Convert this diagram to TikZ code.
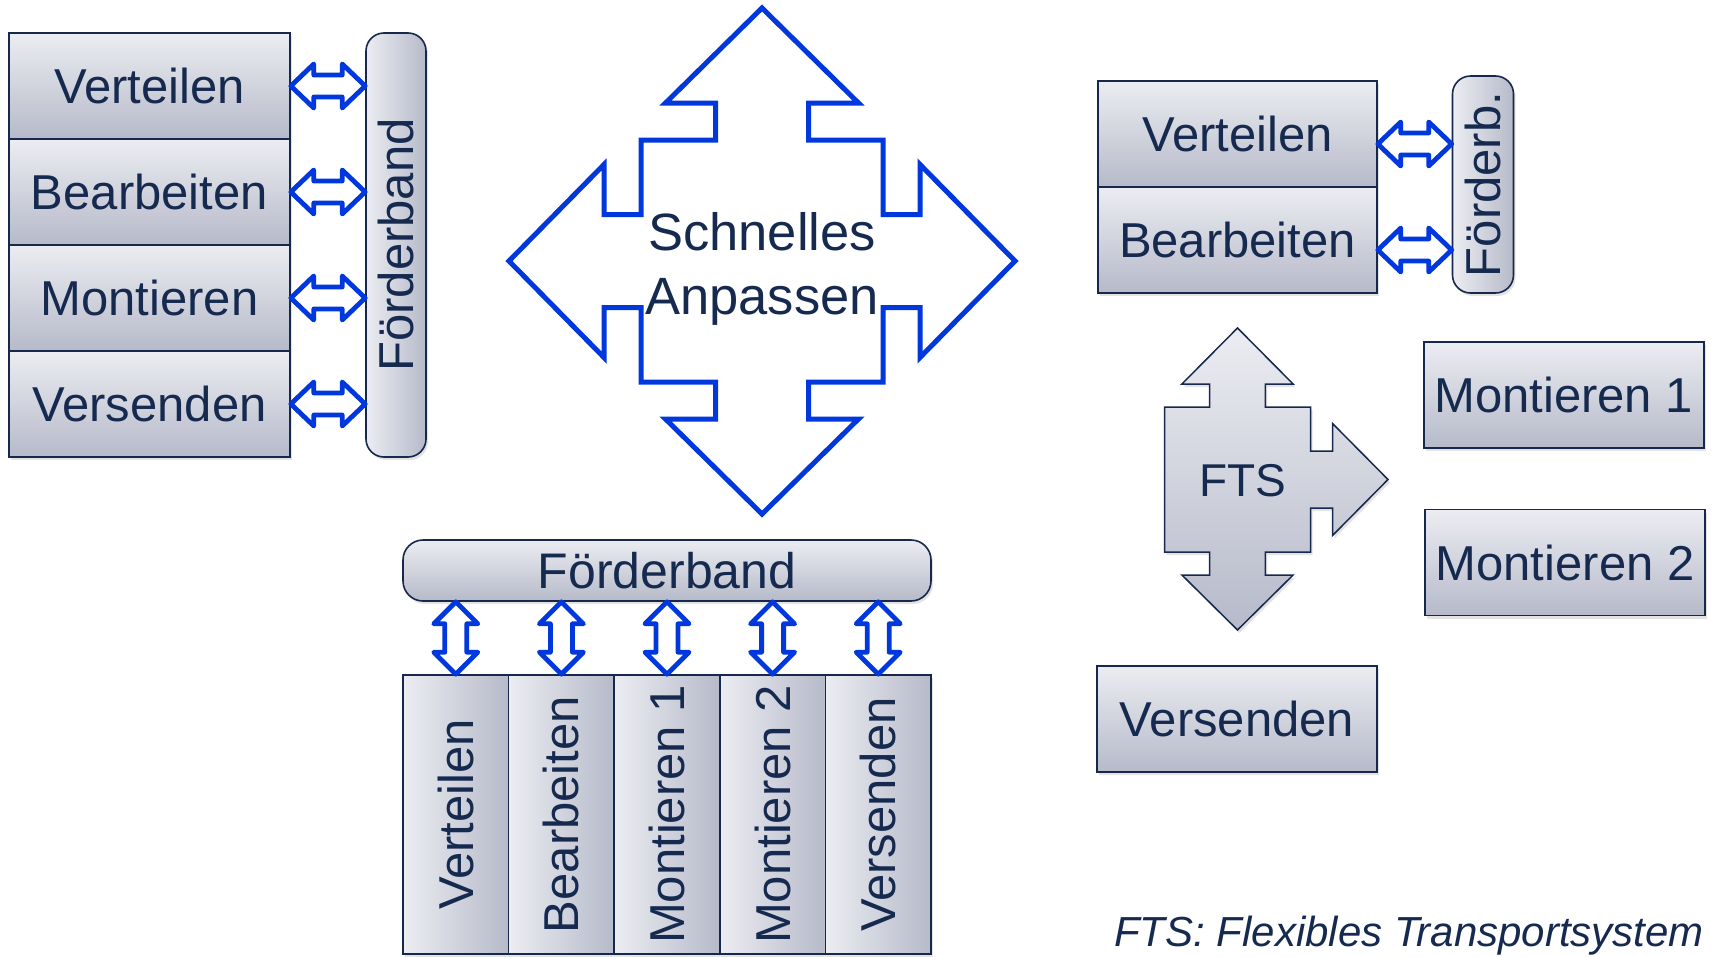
\documentclass[tikz,border=0pt]{standalone}
\usepackage{graphicx}
\usepackage{fontspec}
\setmainfont{Liberation Sans}
\usetikzlibrary{calc,shadows}

\definecolor{ink}{RGB}{22,42,80}
\definecolor{boxline}{RGB}{22,40,76}
\definecolor{flowblue}{RGB}{0,56,222}
\definecolor{boxtop}{RGB}{236,237,242}
\definecolor{boxbot}{RGB}{182,186,201}

\tikzset{
  shadowed/.style={drop shadow={opacity=0.22, shadow xshift=2pt, shadow yshift=-3pt}},
  stage/.style={draw=boxline, line width=1.6pt, top color=boxtop, bottom color=boxbot,
    text=ink, inner sep=0pt, font=\fontsize{49}{58}\selectfont, shadowed},
  vstage/.style={draw=boxline, line width=1.6pt, left color=boxtop, right color=boxbot,
    text=ink, inner sep=0pt, font=\fontsize{49}{58}\selectfont, shadowed},
  belt/.style={vstage, rounded corners=18pt},
  hbelt/.style={stage, rounded corners=20pt},
  lbox/.style={stage, minimum width=281pt, minimum height=106pt},
  rbox/.style={stage, minimum width=280pt, minimum height=106pt},
  column/.style={vstage, minimum width=105.6pt, minimum height=279pt},
  flowarrow/.style={draw=flowblue, line width=4.8pt, fill=white, line join=round},
}

% horizontal double arrow between two tips (left tip, right tip)
\newcommand\hdbl[2]{%
  \draw[flowarrow] (#1) -- ($(#1)+(23,-22)$) -- ($(#1)+(23,-11)$)
    -- ($(#2)+(-23,-11)$) -- ($(#2)+(-23,-22)$) -- (#2)
    -- ($(#2)+(-23,22)$) -- ($(#2)+(-23,11)$)
    -- ($(#1)+(23,11)$) -- ($(#1)+(23,22)$) -- cycle;}
% vertical double arrow between two tips (top tip, bottom tip)
\newcommand\vdbl[2]{%
  \draw[flowarrow] (#1) -- ($(#1)+(-22,22)$) -- ($(#1)+(-11,22)$)
    -- ($(#2)+(-11,-22)$) -- ($(#2)+(-22,-22)$) -- (#2)
    -- ($(#2)+(22,-22)$) -- ($(#2)+(11,-22)$)
    -- ($(#1)+(11,22)$) -- ($(#1)+(22,22)$) -- cycle;}

\begin{document}
\begin{tikzpicture}[x=1pt,y=-1pt]
\useasboundingbox (0,0) rectangle (1713,956);

% ---------- line layout with a vertical conveyor ----------
\node[lbox] (lv1) at (149.5,86)  {Verteilen};
\node[lbox] (lv2) at (149.5,192) {Bearbeiten};
\node[lbox] (lv3) at (149.5,298) {Montieren};
\node[lbox] (lv4) at (149.5,404) {Versenden};
\node[belt, minimum width=60pt, minimum height=424pt] (lfb) at (396,245)
  {\rotatebox{90}{Förderband}};

\coordinate (la1) at (lv1.east -| lfb.west);
\coordinate (la2) at (lv2.east -| lfb.west);
\coordinate (la3) at (lv3.east -| lfb.west);
\coordinate (la4) at (lv4.east -| lfb.west);
\hdbl{lv1.east}{la1}
\hdbl{lv2.east}{la2}
\hdbl{lv3.east}{la3}
\hdbl{lv4.east}{la4}

% ---------- central four-way arrow ----------
\begin{scope}[shift={(762,261)}]
  \draw[flowarrow, line width=5pt, line join=miter]
    (0,-253) -- (96.5,-158) -- (46.5,-158) -- (46.5,-121) -- (121,-121) -- (121,-46.5)
    -- (158,-46.5) -- (158,-96.5) -- (253,0) -- (158,96.5) -- (158,46.5) -- (121,46.5)
    -- (121,121) -- (46.5,121) -- (46.5,158) -- (96.5,158) -- (0,253) -- (-96.5,158)
    -- (-46.5,158) -- (-46.5,121) -- (-121,121) -- (-121,46.5) -- (-158,46.5)
    -- (-158,96.5) -- (-253,0) -- (-158,-96.5) -- (-158,-46.5) -- (-121,-46.5)
    -- (-121,-121) -- (-46.5,-121) -- (-46.5,-158) -- (-96.5,-158) -- cycle;
\end{scope}
\node[text=ink, align=center, inner sep=0pt, font=\fontsize{52.5}{64}\selectfont]
  (adapt) at (762,269) {Schnelles\\Anpassen};

% ---------- stations below a horizontal conveyor ----------
\node[hbelt, minimum width=528pt, minimum height=61pt, font=\fontsize{50}{58}\selectfont]
  (bfb) at (667,570.5) {Förderband};
\node[column] (bc1) at (455.8,814.5) {\rotatebox{90}{Verteilen}};
\node[column] (bc2) at (561.4,814.5) {\rotatebox{90}{Bearbeiten}};
\node[column] (bc3) at (667,814.5)   {\rotatebox{90}{Montieren 1}};
\node[column] (bc4) at (772.6,814.5) {\rotatebox{90}{Montieren 2}};
\node[column] (bc5) at (878.2,814.5) {\rotatebox{90}{Versenden}};

\coordinate (ba1) at (bc1.north |- bfb.south);
\coordinate (ba2) at (bc2.north |- bfb.south);
\coordinate (ba3) at (bc3.north |- bfb.south);
\coordinate (ba4) at (bc4.north |- bfb.south);
\coordinate (ba5) at (bc5.north |- bfb.south);
\vdbl{ba1}{bc1.north}
\vdbl{ba2}{bc2.north}
\vdbl{ba3}{bc3.north}
\vdbl{ba4}{bc4.north}
\vdbl{ba5}{bc5.north}

% ---------- conveyor plus flexible transport system ----------
\node[rbox, minimum width=279pt] (rv1) at (1237.5,134) {Verteilen};
\node[rbox, minimum width=279pt] (rv2) at (1237.5,240) {Bearbeiten};
\node[belt, minimum width=61pt, minimum height=217pt] (rfb) at (1483,184.5)
  {\rotatebox{90}{Förderb.}};
\coordinate (ra1s) at ($(rv1.east)+(0,10)$);
\coordinate (ra2s) at ($(rv2.east)+(0,10)$);
\coordinate (ra1e) at (ra1s -| rfb.west);
\coordinate (ra2e) at (ra2s -| rfb.west);
\hdbl{ra1s}{ra1e}
\hdbl{ra2s}{ra2e}

\begin{scope}[shift={(1237.5,479.5)}]
  \draw[draw=boxline, line width=1.5pt, top color=boxtop, bottom color=boxbot, shadowed]
    (0,-151.5) -- (55.6,-95.5) -- (27.8,-95.5) -- (27.8,-72.5) -- (73,-72.5)
    -- (73,-28.5) -- (95,-28.5) -- (95,-56) -- (150.5,0) -- (95,56) -- (95,28.5)
    -- (73,28.5) -- (73,72.5) -- (27.8,72.5) -- (27.8,95.5) -- (55.6,95.5)
    -- (0,150.5) -- (-55.6,95.5) -- (-27.8,95.5) -- (-27.8,72.5) -- (-73,72.5)
    -- (-73,-72.5) -- (-27.8,-72.5) -- (-27.8,-95.5) -- (-55.6,-95.5) -- cycle;
\end{scope}
\node[text=ink, inner sep=0pt, font=\fontsize{46}{56}\selectfont]
  (fts) at (1243,481) {FTS};

\node[rbox] (rm1) at (1563.7,395)   {Montieren 1};
\node[rbox] (rm2) at (1565,562.5)   {Montieren 2};
\node[rbox] (rvs) at (1237,719)     {Versenden};

\node[anchor=base east, inner sep=0pt, text=ink,
  font=\itshape\fontsize{42}{50}\selectfont]
  (legend) at (1704,946) {FTS: Flexibles Transportsystem};
\end{tikzpicture}
\end{document}
